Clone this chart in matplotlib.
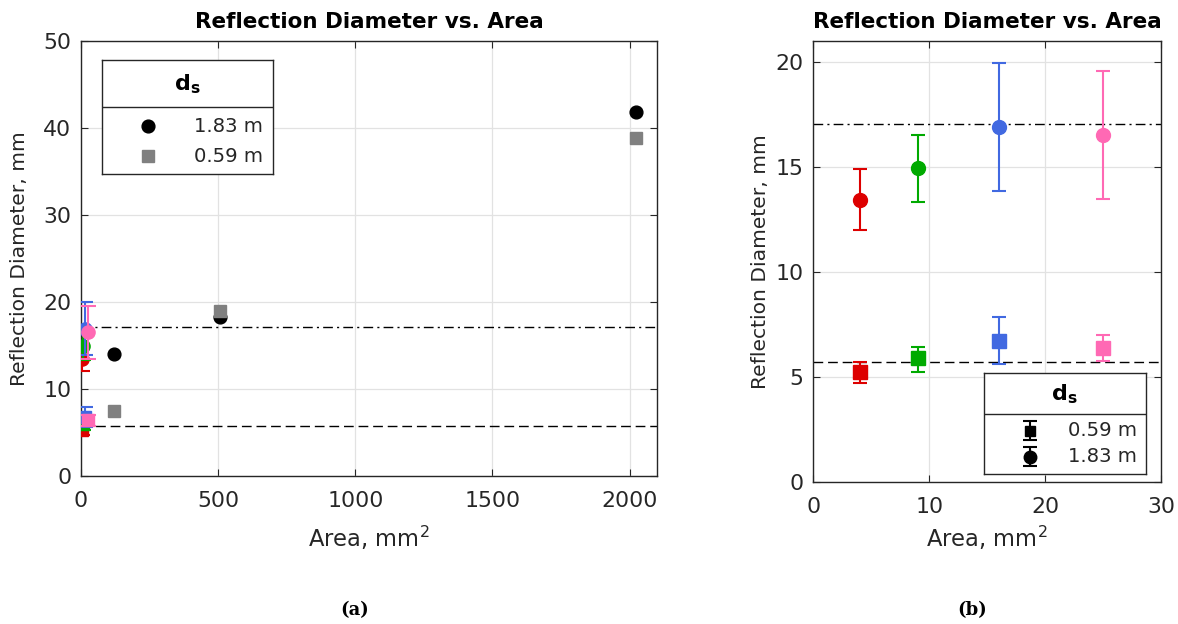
import matplotlib
matplotlib.use("Agg")
import matplotlib.pyplot as plt
import numpy as np

plt.rcParams['font.family'] = ['DejaVu Sans']
plt.rcParams['mathtext.fontset'] = 'dejavusans'

# ---------------- data ----------------
areas = [4, 9, 16, 25]
colors = ['#DD0000', '#00AA00', '#4169E1', '#FF69B4']

d183_mean = [13.43, 14.93, 16.92, 16.50]
d183_low = [12.00, 13.35, 13.86, 13.46]
d183_high = [14.89, 16.50, 19.97, 19.56]

d059_mean = [5.22, 5.89, 6.71, 6.37]
d059_low = [4.70, 5.22, 5.59, 5.76]
d059_high = [5.70, 6.41, 7.86, 6.97]

big_areas = [121, 506, 2025]
big_183 = [14.0, 18.3, 41.8]
big_059 = [7.4, 19.0, 38.9]

ref_183 = 17.05
ref_059 = 5.70

title = 'Reflection Diameter vs. Area'
xlabel = 'Area, mm$^2$'
ylabel = 'Reflection Diameter, mm'
leg_title = r'$\mathbf{d_s}$'

W, H = 1178, 624
fig = plt.figure(figsize=(W / 100, H / 100), dpi=100)

TICK_C = '#262626'
TICK_FS = 15.8
LEG_FS = 14.1


def px_axes(x0, y0, x1, y1):
    return fig.add_axes([x0 / W, 1 - y1 / H, (x1 - x0) / W, (y1 - y0) / H])


def style(ax, ylab_x, xlab_y):
    for s in ax.spines.values():
        s.set_color(TICK_C)
        s.set_linewidth(1.0)
    ax.tick_params(direction='in', top=True, right=True, labelsize=TICK_FS,
                   colors=TICK_C, length=5, width=0.8)
    ax.tick_params(axis='x', pad=11)
    ax.tick_params(axis='y', pad=7)
    ax.grid(True, color='#E2E2E2', linewidth=0.9)
    ax.set_axisbelow(True)
    ax.set_title(title, fontsize=15.5, fontweight='bold', pad=9.5)
    ax.set_xlabel(xlabel, fontsize=16.3, color=TICK_C)
    ax.set_ylabel(ylabel, fontsize=14.6, color=TICK_C)
    ax.yaxis.set_label_coords(ylab_x, 0.5)
    ax.xaxis.set_label_coords(0.5, xlab_y)


def ref_lines(ax):
    ax.axhline(ref_183, color='black', lw=1.0, dashes=(7, 3, 1.5, 3), zorder=1.5)
    ax.axhline(ref_059, color='black', lw=1.0, dashes=(7, 3.5), zorder=1.5)


def colored_points(ax, ms_c, ms_s, cap):
    for i, a in enumerate(areas):
        m, lo, hi = d059_mean[i], d059_low[i], d059_high[i]
        ax.errorbar([a], [m], yerr=[[m - lo], [hi - m]], fmt='s', color=colors[i],
                    ms=ms_s, mec=colors[i], elinewidth=1.5, capsize=cap, capthick=1.5,
                    zorder=3 + i)
        m, lo, hi = d183_mean[i], d183_low[i], d183_high[i]
        ax.errorbar([a], [m], yerr=[[m - lo], [hi - m]], fmt='o', color=colors[i],
                    ms=ms_c, mec=colors[i], elinewidth=1.5, capsize=cap, capthick=1.5,
                    zorder=3 + i)


# ---------------- left axes ----------------
axL = px_axes(81, 41, 657, 475.7)
ref_lines(axL)
colored_points(axL, 9.5, 9, 5.5)
axL.plot(big_areas, big_183, 'o', color='black', ms=9.2, zorder=3)
axL.plot(big_areas, big_059, 's', color='#808080', ms=8.8, zorder=3)
axL.set_xlim(0, 2100)
axL.set_ylim(0, 50)
axL.set_xticks([0, 500, 1000, 1500, 2000])
axL.set_yticks([0, 10, 20, 30, 40, 50])
style(axL, (29 - 81) / 576, (475.7 - 524) / 434.7)

# ---------------- right axes ----------------
axR = px_axes(813.3, 41, 1161, 481.7)
ref_lines(axR)
colored_points(axR, 10, 9.5, 5.2)
axR.set_xlim(0, 30)
axR.set_ylim(0, 21)
axR.set_xticks([0, 10, 20, 30])
axR.set_yticks([0, 5, 10, 15, 20])
style(axR, (770 - 813.3) / 347.7, (481.7 - 524) / 440.7)


# ---------------- legends (MATLAB style with title separator) ----------------
def legend_box(x0, y0, x1, y1, sep, title_y):
    lax = px_axes(x0, y0, x1, y1)
    w, h = x1 - x0, y1 - y0
    lax.set_xlim(0, w)
    lax.set_ylim(h, 0)
    lax.set_xticks([])
    lax.set_yticks([])
    for s in lax.spines.values():
        s.set_color(TICK_C)
        s.set_linewidth(1.0)
    lax.set_facecolor('white')
    lax.axhline(sep, color=TICK_C, lw=1.0)
    lax.text(w / 2, title_y, leg_title, ha='center', va='center', fontsize=16)
    lax.set_zorder(10)
    return lax


lgL = legend_box(101.7, 60, 272.7, 174, 46.7, 24)
lgL.plot([46.6], [66], 'o', color='black', ms=9.2)
lgL.plot([46.6], [96], 's', color='#808080', ms=8.8)
lgL.text(161.3, 66, '1.83 m', ha='right', va='center', fontsize=LEG_FS, color=TICK_C)
lgL.text(161.3, 96, '0.59 m', ha='right', va='center', fontsize=LEG_FS, color=TICK_C)

lgR = legend_box(983.7, 373.3, 1145.7, 474, 40.7, 21)
lgR.errorbar([46.3], [57.7], yerr=[[9.5], [9.5]], fmt='s', color='black', ms=7,
             elinewidth=1.5, capsize=5, capthick=1.5)
lgR.errorbar([46.3], [83.7], yerr=[[9.5], [9.5]], fmt='o', color='black', ms=9,
             elinewidth=1.5, capsize=5, capthick=1.5)
lgR.text(153.3, 57.7, '0.59 m', ha='right', va='center', fontsize=LEG_FS, color=TICK_C)
lgR.text(153.3, 83.7, '1.83 m', ha='right', va='center', fontsize=LEG_FS, color=TICK_C)

# ---------------- captions ----------------
fig.text(355 / W, 1 - 610 / H, '(a)', ha='center', va='center', fontsize=13,
         fontweight='bold', family='DejaVu Serif')
fig.text(972 / W, 1 - 610 / H, '(b)', ha='center', va='center', fontsize=13,
         fontweight='bold', family='DejaVu Serif')

fig.savefig('out.png', dpi=100)
